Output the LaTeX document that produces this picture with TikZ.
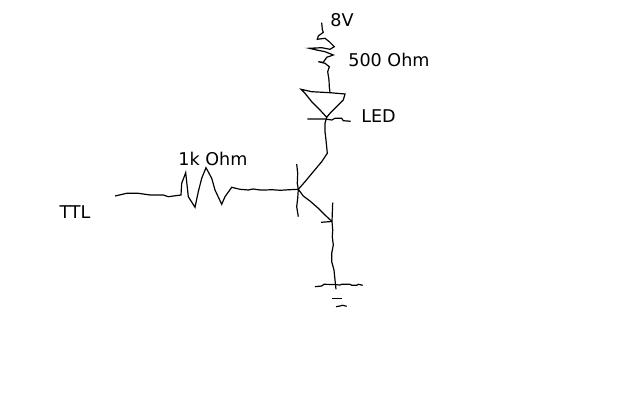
\documentclass[tikz,border=0pt]{standalone}
\usepackage{fontspec}
\setmainfont{DejaVu Sans}
\tikzset{
  wire/.style={line width=0.85pt},
  lbl/.style={font=\fontsize{12.5}{14}\selectfont, inner sep=0pt},
}

\begin{document}
\begin{tikzpicture}[x=0.025cm,y=-0.025cm]
  \useasboundingbox (0,0) rectangle (640,400);
  \node[lbl] (v8) at (342,20) {8V};
  \node[lbl] (r500) at (389,60) {500 Ohm};
  \node[lbl] (led) at (378.5,116) {LED};
  \node[lbl] (r1k) at (213,159) {1k Ohm};
  \node[lbl] (ttl) at (75,212) {TTL};

  \coordinate (ledtop) at (330,92.7);
  \coordinate (ledtip) at (326.7,117.3);
  \coordinate (bjt) at (298.3,189.3);
  \coordinate (emit) at (332,221.5);
  \coordinate (gnd) at (333.5,284.5);

  % supply and 500 Ohm
  \draw[wire] (321.7,22.7) -- (322.3,29.3) -- (323.3,32.3) -- (318.3,36) -- (317.3,39.3) -- (325,38.3) -- (329.3,41.7) -- (334.3,46.7) -- (330,49.3) -- (321.7,47.7) -- (309.3,48.3) -- (316.7,50) -- (325,51.7) -- (333.3,55) -- (326.7,57.3) -- (323.3,62.3) -- (318.3,61.7) -- (325,63.3) -- (329.3,66.7) -- (327.7,71.7) -- (329,80) -- (329.3,86.7) -- (ledtop);
  % LED
  \draw[wire] (301,89.3) -- (311.7,91.7) -- (ledtop) -- (345,94) -- (343.3,100) -- (335,108.3) -- (330,113.3) -- (ledtip) -- (320,110) -- (311.7,101.7) -- (305,93.3) -- cycle;
  \draw[wire] (307.3,119) -- (325,119) -- (331.7,120) -- (335,118.3) -- (341.7,118.3) -- (343.3,120.7) -- (350.7,121.3);
  % collector
  \draw[wire] (ledtip) -- (325,123.3) -- (325,131.7) -- (326,140) -- (327.3,153.3) -- (321.7,161.7) -- (313.3,171.7) -- (305,181.7) -- (bjt);
  % transistor
  \draw[wire] (296.7,164) -- (297.7,173.3) -- (297.3,183.3) -- (bjt) -- (297.7,198.3) -- (296.7,206.7) -- (298.3,216.7);
  \draw[wire] (bjt) -- (303.3,196) -- (310,201) -- (318.3,208.3) -- (325,215) -- (emit);
  \draw[wire] (321,222.3) -- (emit);
  % to ground
  \draw[wire] (332.7,202.7) -- (emit) -- (332.7,230) -- (332.3,236.7) -- (333.3,245) -- (331.7,253.3) -- (331.7,261.7) -- (334,270) -- (335,280) -- (336,289.3);
  \draw[wire] (315,286.7) -- (321.7,286) -- (324,284.3) -- (gnd) -- (340,285) -- (341.7,284.3) -- (350,284.3) -- (351.7,285.3) -- (356.7,285.3) -- (358.3,284.3) -- (362.7,285.3);
  \draw[wire] (332.3,298.3) -- (341.7,298.3);
  \draw[wire] (336,306.7) -- (340,306) -- (342.7,305.3) -- (346.7,306.3);
  % input and 1k Ohm
  \draw[wire] (115,196) -- (126.7,193.3) -- (138.3,193.3) -- (150,195) -- (163.3,195) -- (168.3,196.7) -- (181,195) -- (181.7,183.3) -- (185.7,172.7) -- (188.3,196.7) -- (195,207.3) -- (198.3,191.7) -- (201.7,178.3) -- (206,167.7) -- (211.7,178.3) -- (215,190) -- (221.7,204.3) -- (225,196.7) -- (231.7,187.3) -- (240,189.3) -- (248.3,190) -- (253.3,189) -- (260,190) -- (265,190) -- (272,189.7) -- (280,190.3) -- (290,189.7) -- (bjt);
\end{tikzpicture}
\end{document}
